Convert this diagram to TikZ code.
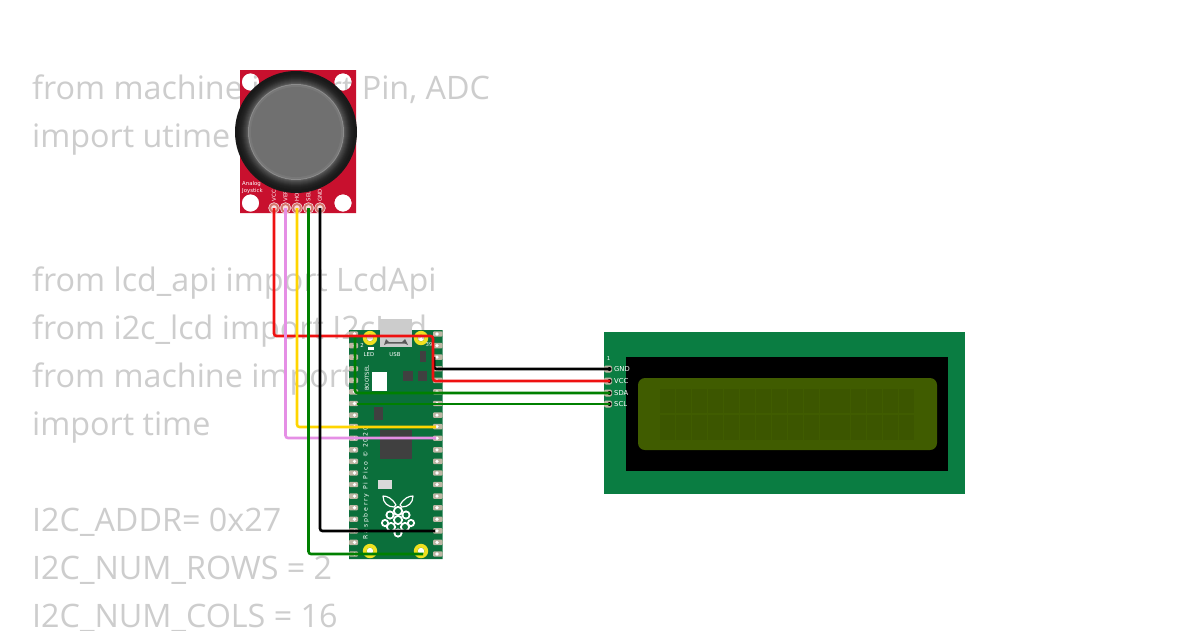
\documentclass[tikz,border=0pt]{standalone}
\usepackage{fontspec}
\setmainfont{Open Sans}
\newfontfamily\dvs{DejaVu Sans}
\newfontfamily\dvsw[LetterSpace=28]{DejaVu Sans}
\definecolor{codegray}{HTML}{CDCDCD}
\definecolor{pcbred}{HTML}{C8102E}
\definecolor{picogreen}{HTML}{0B6F3B}
\definecolor{lcdgreen}{HTML}{0A7D42}
\definecolor{lcdscreen}{HTML}{405C00}
\definecolor{lcdcell}{HTML}{3C5600}
\definecolor{padgray}{HTML}{BDB5A3}
\definecolor{wgreen}{HTML}{008000}
\definecolor{wpink}{HTML}{E58FE5}
\definecolor{wyellow}{HTML}{FFD500}
\definecolor{wred}{HTML}{EE1111}
\definecolor{holeyellow}{HTML}{EFE020}
\tikzset{
  x=1pt,y=-1pt,
  codeline/.style={anchor=base west,inner sep=0pt,text=codegray,font=\fontsize{32.3}{32.3}\selectfont},
  wire/.style={line width=2.6pt,rounded corners=2.5pt},
  tiny/.style={inner sep=0pt,text=white,font=\dvs\fontsize{5.4}{5.4}\selectfont},
  micro/.style={inner sep=0pt,text=white,font=\dvs\fontsize{6.8}{6.8}\selectfont},
}
\begin{document}
\begin{tikzpicture}
\useasboundingbox (0,0) rectangle (1200,630);
\fill[white] (0,0) rectangle (1200,630);
% code behind
\node[codeline] (c1) at (32,99.5) {from machine import Pin, ADC};
\node[codeline] (c2) at (32,147.5) {import utime};
\node[codeline] (c3) at (32,291.5) {from lcd\_api import LcdApi};
\node[codeline] (c4) at (32,339.5) {from i2c\_lcd import I2cLcd};
\node[codeline] (c5) at (32,387.5) {from machine import I2C};
\node[codeline] (c6) at (32,435.5) {import time};
\node[codeline] (c7) at (32,531.5) {I2C\_ADDR= 0x27};
\node[codeline] (c8) at (32,579.5) {I2C\_NUM\_ROWS = 2};
\node[codeline] (c9) at (32,627.5) {I2C\_NUM\_COLS = 16};
% joystick
\fill[pcbred,even odd rule] (240,70) rectangle (356,213)
  (250.5,82) circle (8.7) (343,82) circle (8.7) (250.5,203) circle (8.7) (343,203) circle (8.7);
\node[tiny,anchor=west] (an1) at (242,184.5) {Analog};
\node[tiny,anchor=west] (an2) at (242,190.8) {Joystick};
\foreach \x/\n/\t in {274/vcc/VCC,285.5/ver/VERT,297/hor/HORIZ,308.5/sel/SEL,320/gnd/GND}{
  \fill[red!35!padgray] (\x,208) circle (5.2);
  \draw[white!85!pcbred,line width=.6pt] (\x,208) circle (5.4);
  \fill[white!85!pcbred] (\x,208) circle (2.8);
  \coordinate (j\n) at (\x,208);
  \node[tiny,rotate=90,anchor=west] (jl\n) at (\x,201.5) {\t};
}
% stick: ring from dark rim to lighter inner edge, then the cap
\foreach \r/\k in {61/90,60/90,59/90,58/89,57/88,56/87,55/85,54/83,53/80,52/77,51/74,50/70,49/66}{
  \fill[black!\k] (296,132) circle (\r);
}
\fill[black!45] (296,132) circle (48);
\fill[black!53] (296,132) circle (47);
\fill[black!56] (296,132) circle (45);
% pico
\fill[picogreen,even odd rule] (349,330) rectangle (442.5,559)
  (370,338) circle (3.5) (421,338) circle (3.5) (370,551) circle (3.5) (421,551) circle (3.5);
\fill[black!20] (380,319) rectangle (412,347);
\fill[black!65] (386,339) -- (389,342) -- (402,342) -- (405,339) -- (408,345) -- (405,343.5) -- (387,343.5) -- (384,345) -- cycle;
\foreach \x in {370,421}\foreach \y in {338,551}{
  \fill[holeyellow,even odd rule] (\x,\y) circle (7.2) (\x,\y) circle (3.5);
}
\foreach \i in {0,...,19}{
  \pgfmathsetmacro{\yy}{334+\i*11.58}
  \fill[padgray,rounded corners=1pt] (349,\yy-2.7) rectangle (358,\yy+2.7);
  \fill[padgray,rounded corners=1pt] (433,\yy-2.7) rectangle (442.5,\yy+2.7);
  \fill[white] (354.5,\yy) circle (1.8);
  \fill[white] (437,\yy) circle (1.8);
}
\fill[white] (368,347) rectangle (374,350);
\node[tiny] (led) at (369,354.5) {LED};
\node[tiny] (usb) at (395,354.5) {USB};
\node[tiny] (n2) at (362,345) {2};
\node[tiny] (n39) at (429,345) {39};
\fill[white] (372,372) rectangle (386.5,391);
\fill[black!75] (403,371) rectangle (413,381);
\fill[black!75] (418,371) rectangle (427,381);
\fill[black!75] (419.5,351) rectangle (426,362);
\fill[black!75] (374,407) rectangle (383,420);
\fill[black!75] (380,430) rectangle (412,459);
\fill[black!15] (378,480) rectangle (392,489);
\node[tiny,rotate=90] (boot) at (367,378) {BOOTSEL};
\node[inner sep=0pt,text=white,font=\dvsw\fontsize{6.2}{6.2}\selectfont,rotate=90] (picotext) at (366,483) {Raspberry Pi Pico © 2020};
% logo
\foreach \x/\y/\r in {398/511/4,390/515/3.5,406/515/3.5,398/520/4,385/523/3,411/523/3,391/527/4,405/527/4,398/533/3.5}{
  \fill[white] (\x,\y) circle (\r+1.1);
}
\foreach \x/\y/\r in {398/511/3,390/515/2.5,406/515/2.5,398/520/3,385/523/2,411/523/2,391/527/3,405/527/3,398/533/2.5}{
  \fill[picogreen] (\x,\y) circle (\r);
}
\draw[white,line width=1.2pt,line join=round] (396,505) .. controls (392,498) and (387,496) .. (383,496) .. controls (383,503) and (388,507) .. (394,507) -- cycle;
\draw[white,line width=1.2pt,line join=round] (400,505) .. controls (404,498) and (409,496) .. (413,496) .. controls (413,503) and (408,507) .. (402,507) -- cycle;
% lcd
\fill[lcdgreen] (604,332) rectangle (965,494);
\fill[black] (626,357) rectangle (948,471);
\fill[lcdscreen,rounded corners=7pt] (638,378) rectangle (937,450);
\foreach \i in {0,...,15}\foreach \j in {0,1}{
  \fill[lcdcell] (660+\i*15.95,388.5+\j*26.5) rectangle ++(15,24.5);
}
\node[tiny] (one) at (608.5,359) {1};
\foreach \y/\n/\t in {369/gnd/GND,381/vcc/VCC,393/sda/SDA,404/scl/SCL}{
  \fill[padgray,rounded corners=2pt] (604,\y-3.5) rectangle (612,\y+3.5);
  \fill[black] (609.5,\y) circle (2);
  \coordinate (l\n) at (610,\y);
  \node[micro,anchor=west] (lt\n) at (614,\y) {\t};
}
% pico pin coordinates
\coordinate (pa) at (433,336);
\coordinate (pb) at (434,357);
\coordinate (pc) at (355,336);
\coordinate (pd) at (357,404);
\coordinate (py) at (436,427);
\coordinate (pp) at (436,438);
\coordinate (pk) at (435,531);
\coordinate (pg) at (423,554);
% wires
\draw[wire,black] (pb) |- (lgnd);
\draw[wire,wgreen] (pc) |- (lsda);
\draw[wire,wgreen] (pd) -- (lscl);
\draw[wire,wred] (jvcc) |- (pa) |- (lvcc);
\draw[wire,wpink] (jver) |- (pp);
\draw[wire,wyellow] (jhor) |- (py);
\draw[wire,wgreen] (jsel) |- (pg);
\draw[wire,black] (jgnd) |- (pk);
\end{tikzpicture}
\end{document}
